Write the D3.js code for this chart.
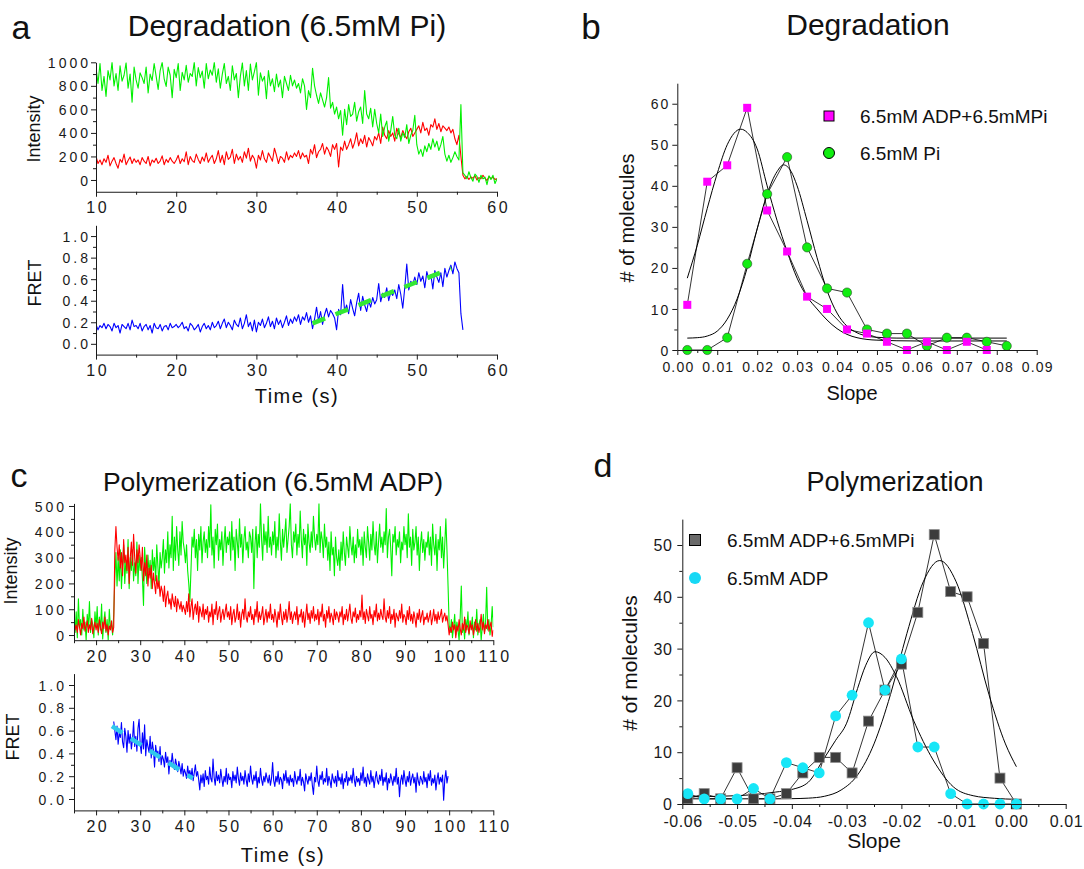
<!DOCTYPE html>
<html>
<head>
<meta charset="utf-8">
<script src="https://cdn.jsdelivr.net/npm/d3@7"></script>
<style>
  body { margin: 0; background: #fff; }
  svg { display: block; font-family: "Liberation Sans", Arial, Helvetica, sans-serif; }
</style>
</head>
<body>
<svg id="fig" width="1084" height="869"></svg>
<script>
// ---------- panel a : degradation trace (6.5mM Pi), sampled every 0.25 s from 10 s ----------
const aStart = 10, aStep = 0.25;
const aGreen = [
  950,820,990,760,880,710,930,850,1000,800,905,760,970,840,890,995,780,900,660,960,
  850,780,910,870,820,960,740,900,845,990,880,770,930,1000,860,795,960,890,700,940,
  870,990,760,915,850,975,830,905,880,1000,800,955,870,925,780,990,860,935,890,1000,
  830,945,780,900,990,820,880,760,970,850,905,700,880,995,800,930,760,985,850,920,
  1000,720,910,840,880,690,930,800,860,750,900,790,850,700,880,820,760,890,800,850,
  780,820,740,860,800,600,760,700,950,800,720,650,740,680,620,700,870,610,660,560,
  620,520,590,380,600,470,640,540,560,660,500,580,620,480,760,560,520,610,450,600,
  480,400,560,370,450,500,330,420,540,380,350,440,330,400,360,470,310,380,420,550,
  300,220,260,200,290,240,310,260,350,280,330,250,300,370,220,160,210,150,190,240,
  200,170,640,60,40,10,70,20,-10,50,30,-20,40,10,25,-40,35,5,40,-30,
  10
];
const aRed = [
  200,140,170,130,180,150,210,120,160,190,140,100,175,150,220,130,165,195,140,180,
  150,170,130,190,160,140,200,120,170,150,185,140,160,205,130,175,150,190,160,140,
  170,210,140,180,155,240,130,200,165,150,220,175,140,195,160,230,150,185,210,140,
  180,250,150,210,130,240,175,195,260,140,220,170,200,150,240,185,270,160,210,180,
  100,210,170,250,180,150,230,195,160,270,210,140,200,185,150,240,170,210,190,230,
  200,250,180,230,195,210,140,260,220,300,190,240,260,310,220,280,250,200,300,260,
  310,110,280,250,330,260,300,350,270,320,400,290,350,310,380,280,360,330,290,370,
  340,400,310,450,380,350,420,370,400,330,440,390,360,420,380,350,410,440,370,400,
  430,460,400,490,420,440,380,470,450,520,430,480,410,460,440,420,450,400,430,350,
  300,380,200,40,10,30,5,25,15,35,0,20,10,40,15,-5,30,10,25,5,
  10
];
const aFret = [
  0.18,0.13,0.17,0.15,0.19,0.14,0.18,0.16,0.12,0.19,0.15,0.17,0.10,0.18,0.16,0.14,0.19,0.13,0.22,0.16,
  0.17,0.14,0.19,0.12,0.16,0.18,0.13,0.17,0.10,0.19,0.15,0.14,0.18,0.12,0.16,0.17,0.13,0.19,0.15,0.16,
  0.18,0.15,0.17,0.20,0.14,0.16,0.12,0.19,0.17,0.13,0.15,0.18,0.11,0.16,0.19,0.14,0.17,0.13,0.20,0.15,
  0.17,0.21,0.14,0.19,0.23,0.15,0.20,0.17,0.13,0.22,0.18,0.16,0.24,0.14,0.19,0.27,0.16,0.20,0.12,0.22,
  0.11,0.20,0.17,0.23,0.15,0.19,0.25,0.16,0.21,0.14,0.24,0.18,0.22,0.15,0.20,0.26,0.17,0.23,0.19,0.25,
  0.21,0.27,0.18,0.25,0.22,0.29,0.20,0.26,0.14,0.23,0.34,0.21,0.30,0.18,0.27,0.33,0.25,0.31,0.28,0.24,
  0.13,0.32,0.27,0.55,0.30,0.36,0.28,0.41,0.33,0.26,0.38,0.47,0.31,0.44,0.36,0.30,0.40,0.34,0.43,0.37,
  0.41,0.56,0.39,0.47,0.43,0.52,0.40,0.48,0.45,0.50,0.42,0.55,0.46,0.33,0.52,0.74,0.50,0.58,0.55,0.62,
  0.55,0.66,0.58,0.63,0.52,0.67,0.60,0.64,0.51,0.68,0.62,0.57,0.66,0.53,0.70,0.62,0.68,0.73,0.65,0.76,
  0.70,0.66,0.28,0.13
];
// linear FRET fit (drawn dashed)
const aFitTime = [37.0, 54.3];
const aFitFret = [0.19, 0.70];

// ---------- panel c : polymerization trace (6.5mM ADP), sampled every 0.25 s from 15 s ----------
const cStart = 15, cStep = 0.25;
const cGreen = [
  40,10,90,-10,140,30,60,0,100,20,50,-20,80,30,130,10,60,40,-10,90,
  30,110,0,70,20,120,-15,50,90,10,60,-20,100,30,40,0,80,220,320,190,
  300,210,330,180,270,350,200,290,240,370,180,300,250,330,210,280,230,360,200,310,
  250,300,220,115,340,260,200,310,240,290,180,330,250,300,210,350,270,190,320,260,
  300,370,240,330,280,400,260,350,300,460,250,380,290,420,330,270,400,310,440,360,
  330,280,350,250,200,130,250,380,340,410,300,370,250,390,330,420,280,360,400,320,
  370,300,420,340,505,310,380,260,410,350,430,290,370,330,400,270,360,420,320,380,
  350,400,290,440,330,380,250,410,360,300,450,340,390,280,370,420,330,360,300,400,
  380,320,410,180,350,420,300,390,340,510,370,290,430,350,400,320,460,340,380,310,
  400,350,440,300,380,330,470,360,290,410,340,390,450,320,370,420,510,350,300,400,
  360,430,310,390,340,480,370,300,410,350,390,270,430,360,320,400,340,460,380,330,
  390,350,510,320,400,370,300,430,340,380,290,360,250,400,310,340,230,380,300,270,
  330,250,360,290,400,320,270,380,340,300,420,350,310,380,280,350,300,410,340,370,
  310,380,270,400,340,300,420,360,290,390,330,440,350,310,400,280,360,430,340,380,
  320,400,350,490,300,380,410,340,230,390,360,420,310,370,340,400,280,360,330,420,
  350,390,300,470,340,380,270,410,330,360,420,310,380,250,350,400,320,370,290,360,
  340,400,310,380,270,430,350,310,390,250,370,330,420,300,380,260,350,450,330,190,
  40,10,60,-10,30,80,0,50,20,-20,70,190,10,40,-15,60,20,90,0,40,
  30,70,-10,50,20,100,0,40,60,-20,30,80,10,50,185,20,60,0,40,110,
  30
];
const cRed = [
  50,20,40,10,60,30,0,45,25,70,15,35,55,10,40,20,65,5,30,50,
  20,45,10,60,30,5,50,25,70,15,40,0,35,20,55,10,30,330,420,340,
  290,350,260,320,230,370,280,310,250,340,200,300,360,270,390,300,240,330,280,350,
  300,250,340,210,280,230,310,190,260,220,270,180,240,200,160,230,180,210,150,190,
  170,130,190,110,150,170,120,140,100,160,130,110,150,90,140,120,100,130,90,115,
  100,80,130,90,160,70,110,140,60,100,120,80,130,50,110,90,70,120,60,100,
  80,110,50,90,70,120,40,100,80,130,60,90,110,50,80,100,60,90,120,70,
  90,60,110,40,80,100,50,70,120,60,90,30,80,100,60,140,70,50,90,70,
  110,60,80,40,100,70,130,50,90,60,80,110,40,70,100,50,90,65,120,60,
  80,50,100,70,30,90,60,120,70,40,90,60,100,50,80,130,60,90,45,75,
  90,60,110,40,80,70,100,50,90,30,75,120,60,85,45,95,65,110,55,80,
  60,100,40,90,70,120,55,80,30,95,65,110,50,85,70,40,100,60,90,75,
  50,90,70,110,40,80,60,100,55,85,120,65,45,90,70,105,50,80,60,95,
  70,155,60,90,45,100,75,55,110,65,80,40,95,70,120,55,85,60,100,75,
  60,140,70,50,95,65,110,45,80,60,100,30,85,70,55,95,65,120,50,80,
  70,40,95,60,110,55,80,45,90,65,30,85,60,100,50,75,95,40,70,60,
  85,50,70,95,40,65,100,55,80,45,90,60,75,100,50,70,85,55,75,40,
  0,30,10,50,20,40,-10,35,15,60,25,0,45,20,70,10,40,30,5,55,
  20,40,0,30,60,15,45,10,35,80,20,50,5,40,25,60,15,35,50,-5,
  20
];
const cFretStart = 24;
const cFret = [
  0.68,0.60,0.52,0.64,0.48,0.58,0.54,0.67,0.50,0.45,0.62,0.55,0.41,0.60,0.49,0.57,0.44,0.52,0.68,0.46,
  0.55,0.42,0.62,0.70,0.48,0.40,0.58,0.44,0.65,0.38,0.52,0.46,0.41,0.55,0.36,0.50,0.43,0.28,0.47,0.39,
  0.42,0.33,0.46,0.30,0.38,0.35,0.28,0.41,0.32,0.37,0.22,0.34,0.29,0.40,0.31,0.26,0.35,0.30,0.24,0.33,
  0.28,0.22,0.31,0.20,0.26,0.23,0.18,0.29,0.21,0.25,0.19,0.27,0.16,0.23,0.30,0.20,0.24,0.17,0.08,0.21,
  0.14,0.22,0.11,0.25,0.17,0.20,0.13,0.28,0.18,0.15,0.35,0.19,0.12,0.24,0.16,0.21,0.14,0.26,0.18,0.11,
  0.20,0.15,0.27,0.13,0.22,0.17,0.19,0.10,0.24,0.16,0.21,0.14,0.28,0.18,0.12,0.23,0.16,0.20,0.13,0.25,
  0.17,0.11,0.22,0.15,0.29,0.18,0.13,0.21,0.16,0.24,0.10,0.19,0.14,0.27,0.17,0.12,0.20,0.15,0.23,0.18,
  0.14,0.21,0.12,0.18,0.32,0.16,0.11,0.20,0.15,0.24,0.13,0.19,0.17,0.09,0.22,0.16,0.25,0.14,0.19,0.12,
  0.21,0.15,0.18,0.11,0.24,0.17,0.13,0.20,0.16,0.26,0.12,0.19,0.15,0.07,0.22,0.17,0.13,0.20,0.16,0.23,
  0.12,0.04,0.19,0.15,0.29,0.16,0.11,0.21,0.17,0.24,0.13,0.18,0.15,0.27,0.12,0.20,0.16,0.10,0.22,0.17,
  0.14,0.20,0.11,0.25,0.16,0.19,0.13,0.22,0.09,0.18,0.15,0.24,0.12,0.19,0.16,0.21,0.14,0.27,0.17,0.11,
  0.20,0.15,0.18,0.12,0.23,0.16,0.28,0.14,0.19,0.11,0.22,0.17,0.13,0.25,0.15,0.20,0.10,0.18,0.24,0.16,
  0.13,0.21,0.16,0.26,0.12,0.19,0.15,0.23,0.08,0.18,0.14,0.22,0.17,0.12,0.20,0.15,0.27,0.13,0.19,0.02,
  0.16,0.21,0.13,0.25,0.17,0.11,0.20,0.15,0.24,0.12,0.18,0.22,0.14,0.19,0.06,0.23,0.16,0.12,0.20,0.17,
  0.13,0.24,0.15,0.19,0.10,0.22,0.16,0.25,0.12,0.18,0.14,0.21,0.08,0.17,0.23,0.13,0.19,0.15,0.21,-0.01,
  0.17,0.25,0.14,0.20
];
const cFitTime = [23.6, 41.9];
const cFitFret = [0.64, 0.18];

// ---------- panel b : degradation slope histograms ----------
const bSlope = [0.0025,0.0075,0.0125,0.0175,0.0225,0.0275,0.0325,0.0375,0.0425,0.0475,0.0525,0.0575,0.0625,0.0675,0.0725,0.0775,0.0825];
const bAdpPi = [11,41,45,59,34,24,13,10,5,4,2,0,2,0,2,0];
const bPi = [0,0,3,21,38,47,25,15,14,5,4,4,1,3,3,2,1];
const bFitAdpPiX = [0.0025,0.005,0.0075,0.010,0.0125,0.0159,0.0175,0.020,0.0225,0.025,0.0275,0.030,0.0325,0.035,0.0375,0.040,0.0425,0.045,0.050,0.060,0.0825];
const bFitAdpPiY = [17.5,25.5,34.5,43,50,53.8,53,49,40,31.5,24,17.5,13,10,7.3,5.2,3.8,3.0,2.4,2.2,2.2];
const bFitPiX = [0.0025,0.005,0.0075,0.010,0.0125,0.015,0.0175,0.020,0.0225,0.025,0.0266,0.0285,0.030,0.0325,0.035,0.0375,0.040,0.0425,0.045,0.0475,0.050,0.055,0.0825];
const bFitPiY = [2.9,3.0,3.4,4.6,7.5,12.5,20,29.5,38,43.5,45.1,43.5,40,31.5,22.5,14.5,9,5.8,4.2,3.4,3.1,2.9,2.9];

// ---------- panel d : polymerization slope histograms ----------
const dSlope = [-0.059,-0.056,-0.053,-0.050,-0.047,-0.044,-0.041,-0.038,-0.035,-0.032,-0.029,-0.026,-0.023,-0.020,-0.017,-0.014,-0.011,-0.008,-0.005,-0.002,0.001];
const dAdpPi = [1,2,1,7,1,1,2,6,9,9,6,16,22,27,37,52,41,40,31,5,0];
const dAdp = [2,1,1,1,3,1,8,7,6,17,21,35,22,28,11,11,2,0,0,0,0];
const dFitAdpPiX = [-0.059,-0.050,-0.043,-0.040,-0.037,-0.034,-0.031,-0.028,-0.025,-0.022,-0.019,-0.016,-0.013,-0.010,-0.007,-0.004,-0.001,0.001];
const dFitAdpPiY = [1.0,1.0,1.0,1.03,1.13,1.5,2.7,5.6,11.6,21.1,32.9,42.9,47,42.9,32.9,21.1,11.6,7.2];
const dFitAdpX = [-0.059,-0.053,-0.047,-0.043,-0.040,-0.037,-0.0343,-0.032,-0.030,-0.028,-0.0265,-0.0248,-0.023,-0.0209,-0.0178,-0.0142,-0.0105,-0.0069,-0.003,0.001];
const dFitAdpY = [1.4,1.5,1.8,2.3,2.8,4.2,8.5,12.3,15.6,22.3,26.8,29.4,28.3,24.6,16.2,8.5,3.3,1.6,1.1,0.9];

// ---------- tick values ----------
const aIntTicks = [0,200,400,600,800,1000], aIntMinor = [100,300,500,700,900];
const aTimeTicks = [10,20,30,40,50,60], aTimeMinor = [15,25,35,45,55];
const fretTicks = [0,0.2,0.4,0.6,0.8,1.0], fretMinor = [0.1,0.3,0.5,0.7,0.9];
const cIntTicks = [0,100,200,300,400,500], cIntMinor = [50,150,250,350,450];
const cTimeTicks = [20,30,40,50,60,70,80,90,100,110], cTimeMinor = [15,25,35,45,55,65,75,85,95,105];
const bSlopeTicks = [0,0.01,0.02,0.03,0.04,0.05,0.06,0.07,0.08,0.09];
const bSlopeMinor = [0.005,0.015,0.025,0.035,0.045,0.055,0.065,0.075,0.085];
const bCountTicks = [0,10,20,30,40,50,60], bCountMinor = [5,15,25,35,45,55];
const dSlopeTicks = [-0.06,-0.05,-0.04,-0.03,-0.02,-0.01,0,0.01];
const dSlopeMinor = [-0.055,-0.045,-0.035,-0.025,-0.015,-0.005,0.005];
const dCountTicks = [0,10,20,30,40,50], dCountMinor = [5,15,25,35,45];

const svg = d3.select("#fig");
const ink = "#1a1a1a";
const GREEN = "#00f000", RED = "#ff0000", BLUE = "#0000ff";

// axes in the Origin style: outward ticks, minor ticks, no outer tick
function drawAxes(x, y, o) {
  const yb = y.range()[0], xl = x.range()[0];
  const g = svg.append("g");
  const xa = g.append("g").attr("transform", `translate(0,${yb})`)
    .call(d3.axisBottom(x).tickValues(o.xTicks).tickFormat(o.xFmt).tickSize(5).tickSizeOuter(0));
  xa.selectAll("text").attr("y", o.xLabelY).attr("dy", null)
    .style("font-size", o.xFont + "px").style("letter-spacing", o.xSpace + "px")
    .attr("dx", o.xSpace / 2);
  g.append("g").attr("transform", `translate(0,${yb})`)
    .call(d3.axisBottom(x).tickValues(o.xMinor).tickFormat("").tickSize(3).tickSizeOuter(0))
    .select(".domain").remove();
  const ya = g.append("g").attr("transform", `translate(${xl},0)`)
    .call(d3.axisLeft(y).tickValues(o.yTicks).tickFormat(o.yFmt).tickSize(5).tickSizeOuter(0));
  ya.selectAll("text").attr("x", o.yLabelX + o.ySpace).attr("dy", "0.36em")
    .style("font-size", o.yFont + "px").style("letter-spacing", o.ySpace + "px");
  g.append("g").attr("transform", `translate(${xl},0)`)
    .call(d3.axisLeft(y).tickValues(o.yMinor).tickFormat("").tickSize(3).tickSizeOuter(0))
    .select(".domain").remove();
  g.selectAll(".domain, .tick line").attr("stroke", ink).attr("stroke-width", 1);
  g.selectAll("text").attr("fill", ink).style("font-family", '"Liberation Sans", Arial, sans-serif');
}

function clipFor(id, x, y) {
  svg.append("clipPath").attr("id", id).append("rect")
    .attr("x", x.range()[0]).attr("y", y.range()[1])
    .attr("width", x.range()[1] - x.range()[0]).attr("height", y.range()[0] - y.range()[1]);
  return `url(#${id})`;
}

function trace(x, y, start, step, values, color, clip) {
  const line = d3.line().x((d, i) => x(start + i * step)).y(d => y(d));
  svg.append("path").datum(values)
    .attr("d", line).attr("fill", "none")
    .attr("stroke", color).attr("stroke-width", 1.1).attr("stroke-linejoin", "round")
    .attr("clip-path", clip);
}

function fitSegment(x, y, ts, vs, color, dash) {
  svg.append("path").datum(ts.map((t, i) => [t, vs[i]]))
    .attr("d", d3.line().x(d => x(d[0])).y(d => y(d[1])))
    .attr("stroke", color).attr("stroke-width", 4.5).attr("fill", "none")
    .attr("stroke-dasharray", dash);
}

function text(x, y, str, size, opts = {}) {
  const t = svg.append("text").attr("x", x).attr("y", y).text(str)
    .attr("fill", "#111").style("font-size", size + "px")
    .attr("text-anchor", opts.anchor || "middle");
  if (opts.spacing) t.style("letter-spacing", opts.spacing + "px");
  if (opts.rotate) t.attr("transform", `rotate(-90,${x},${y})`);
  return t;
}

const intFmt = d3.format("d");
const fretFmt = d3.format(".1f");
const slopeFmt = d => d3.format(".2f")(d).replace("\u2212", "-");

// ================= panel a =================
const aX = d3.scaleLinear().domain([10, 60]).range([96, 497]);
const aYInt = d3.scaleLinear().domain([-100, 1000]).range([191.75, 62.3]);
const aYFret = d3.scaleLinear().domain([-0.1, 1.1]).range([354.6, 225.3]);

const clipA1 = clipFor("clipA1", aX, aYInt);
trace(aX, aYInt, aStart, aStep, aRed, RED, clipA1);
trace(aX, aYInt, aStart, aStep, aGreen, GREEN, clipA1);
drawAxes(aX, aYInt, { xTicks: aTimeTicks, xMinor: aTimeMinor, xFmt: intFmt, xLabelY: 21.5, xFont: 16, xSpace: 2.5,
  yTicks: aIntTicks, yMinor: aIntMinor, yFmt: intFmt, yLabelX: -8, yFont: 14, ySpace: 3 });

const clipA2 = clipFor("clipA2", aX, aYFret);
trace(aX, aYFret, aStart, aStep, aFret, BLUE, clipA2);
fitSegment(aX, aYFret, aFitTime, aFitFret, "#33e833", "13.5,11.2");
drawAxes(aX, aYFret, { xTicks: aTimeTicks, xMinor: aTimeMinor, xFmt: intFmt, xLabelY: 21.3, xFont: 16, xSpace: 2.5,
  yTicks: fretTicks, yMinor: fretMinor, yFmt: fretFmt, yLabelX: -8, yFont: 14, ySpace: 3 });

text(21, 39, "a", 34);
text(287, 36, "Degradation (6.5mM Pi)", 30);
text(40, 129, "Intensity", 18, { rotate: true });
text(41, 283, "FRET", 18, { rotate: true });
text(297, 403, "Time (s)", 20, { spacing: 1.5 });

// ================= panel c =================
const cX = d3.scaleLinear().domain([15, 110]).range([74, 493.3]);
const cYInt = d3.scaleLinear().domain([-20, 510]).range([640.2, 503.4]);
const cYFret = d3.scaleLinear().domain([-0.1, 1.1]).range([810.4, 673.6]);

const clipC1 = clipFor("clipC1", cX, cYInt);
trace(cX, cYInt, cStart, cStep, cGreen, GREEN, clipC1);
trace(cX, cYInt, cStart, cStep, cRed, RED, clipC1);
drawAxes(cX, cYInt, { xTicks: cTimeTicks, xMinor: cTimeMinor, xFmt: intFmt, xLabelY: 22.3, xFont: 16, xSpace: 2.5,
  yTicks: cIntTicks, yMinor: cIntMinor, yFmt: intFmt, yLabelX: -10, yFont: 14, ySpace: 3 });

const clipC2 = clipFor("clipC2", cX, cYFret);
trace(cX, cYFret, cFretStart, cStep, cFret, BLUE, clipC2);
fitSegment(cX, cYFret, cFitTime, cFitFret, "#30c8ec", "12.5,10");
drawAxes(cX, cYFret, { xTicks: cTimeTicks, xMinor: cTimeMinor, xFmt: intFmt, xLabelY: 22.1, xFont: 16, xSpace: 2.5,
  yTicks: fretTicks, yMinor: fretMinor, yFmt: fretFmt, yLabelX: -10, yFont: 14, ySpace: 3 });

text(19, 487, "c", 34);
text(273, 491, "Polymerization (6.5mM ADP)", 26.5);
text(17, 571, "Intensity", 18, { rotate: true });
text(19, 737, "FRET", 18, { rotate: true });
text(283, 862, "Time (s)", 20, { spacing: 1.5 });

// ================= panel b =================
const bX = d3.scaleLinear().domain([0, 0.09]).range([677.3, 1036.7]);
const bY = d3.scaleLinear().domain([0, 65]).range([350, 83.2]);
const curve = d3.line().x(d => bX(d[0])).y(d => bY(d[1])).curve(d3.curveMonotoneX);
const joined = d3.line().x(d => bX(d[0])).y(d => bY(d[1]));

[[bFitAdpPiX, bFitAdpPiY], [bFitPiX, bFitPiY]].forEach(([xs, ys]) => {
  svg.append("path").datum(xs.map((v, i) => [v, ys[i]])).attr("d", curve)
    .attr("fill", "none").attr("stroke", "#000").attr("stroke-width", 1);
});
[bAdpPi, bPi].forEach(vals => {
  svg.append("path").datum(vals.map((v, i) => [bSlope[i], v])).attr("d", joined)
    .attr("fill", "none").attr("stroke", "#000").attr("stroke-width", 0.8);
});
svg.append("g").selectAll("circle").data(bPi).enter().append("circle")
  .attr("cx", (d, i) => bX(bSlope[i])).attr("cy", d => bY(d)).attr("r", 4.6)
  .attr("fill", "#11ee11").attr("stroke", "#2a4a2a").attr("stroke-width", 0.6);
svg.append("g").selectAll("rect").data(bAdpPi).enter().append("rect")
  .attr("x", (d, i) => bX(bSlope[i]) - 4).attr("y", d => bY(d) - 4)
  .attr("width", 8).attr("height", 8).attr("fill", "#ff00ff");

drawAxes(bX, bY, { xTicks: bSlopeTicks, xMinor: bSlopeMinor, xFmt: slopeFmt, xLabelY: 21.7, xFont: 14, xSpace: 1.2,
  yTicks: bCountTicks, yMinor: bCountMinor, yFmt: intFmt, yLabelX: -9, yFont: 14, ySpace: 2 });

svg.append("rect").attr("x", 824).attr("y", 111).attr("width", 10).attr("height", 10)
  .attr("fill", "#ff00ff").attr("stroke", "#000").attr("stroke-width", 1);
svg.append("circle").attr("cx", 829).attr("cy", 153).attr("r", 5.5)
  .attr("fill", "#11ee11").attr("stroke", "#000").attr("stroke-width", 1);
text(860, 123, "6.5mM ADP+6.5mMPi", 19, { anchor: "start" });
text(860, 160, "6.5mM Pi", 19, { anchor: "start" });

text(591, 39, "b", 35);
text(868, 35, "Degradation", 30);
text(634, 218, "# of molecules", 20, { rotate: true });
text(852, 400, "Slope", 20);

// ================= panel d =================
const dX = d3.scaleLinear().domain([-0.06, 0.01]).range([682.3, 1065.7]);
const dY = d3.scaleLinear().domain([0, 55]).range([804, 519.1]);
const dCurve = d3.line().x(d => dX(d[0])).y(d => dY(d[1])).curve(d3.curveMonotoneX);
const dJoined = d3.line().x(d => dX(d[0])).y(d => dY(d[1]));

[[dFitAdpPiX, dFitAdpPiY], [dFitAdpX, dFitAdpY]].forEach(([xs, ys]) => {
  svg.append("path").datum(xs.map((v, i) => [v, ys[i]])).attr("d", dCurve)
    .attr("fill", "none").attr("stroke", "#000").attr("stroke-width", 1);
});
[dAdpPi, dAdp].forEach(vals => {
  svg.append("path").datum(vals.map((v, i) => [dSlope[i], v])).attr("d", dJoined)
    .attr("fill", "none").attr("stroke", "#000").attr("stroke-width", 0.8);
});
svg.append("g").selectAll("rect").data(dAdpPi).enter().append("rect")
  .attr("x", (d, i) => dX(dSlope[i]) - 5).attr("y", d => dY(d) - 5)
  .attr("width", 10).attr("height", 10)
  .attr("fill", "#3c3c3c").attr("stroke", "#8a8a8a").attr("stroke-width", 0.8);
svg.append("g").selectAll("circle").data(dAdp).enter().append("circle")
  .attr("cx", (d, i) => dX(dSlope[i])).attr("cy", d => dY(d)).attr("r", 5.4)
  .attr("fill", "#17e6f7");

drawAxes(dX, dY, { xTicks: dSlopeTicks, xMinor: dSlopeMinor, xFmt: slopeFmt, xLabelY: 23, xFont: 16, xSpace: 0.6,
  yTicks: dCountTicks, yMinor: dCountMinor, yFmt: intFmt, yLabelX: -10.5, yFont: 16, ySpace: 0.5 });

svg.append("rect").attr("x", 689.5).attr("y", 534.5).attr("width", 11).attr("height", 11)
  .attr("fill", "#6a6a6a").attr("stroke", "#000").attr("stroke-width", 1);
svg.append("circle").attr("cx", 695).attr("cy", 578).attr("r", 6)
  .attr("fill", "#17d8f5");
text(727, 547, "6.5mM ADP+6.5mMPi", 19, { anchor: "start" });
text(727, 585, "6.5mM ADP", 19, { anchor: "start" });

text(603, 477, "d", 34);
text(895, 491, "Polymerization", 27);
text(637, 663, "# of molecules", 21, { rotate: true });
text(874, 848, "Slope", 21);
</script>
</body>
</html>
